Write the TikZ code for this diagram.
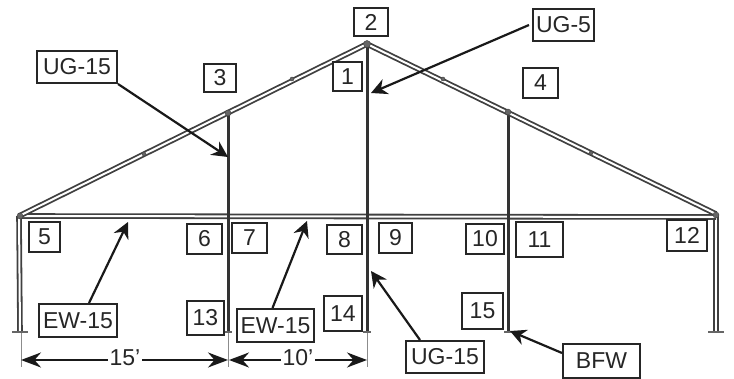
\documentclass[tikz,border=0pt]{standalone}
\usepackage{fontspec}
\setmainfont{Liberation Sans}
\usetikzlibrary{arrows.meta}
\tikzset{
  tag/.style={draw=black!85, line width=2pt, fill=white, inner sep=0pt, text=black!85,
    font=\fontsize{23}{23}\selectfont},
  rafter/.style={draw=black!75, line width=1.8pt, double=white, double distance=2pt},
  post/.style={draw=black!80, line width=3pt},
  thinline/.style={draw=black!45, line width=0.7pt},
  joint/.style={fill=black!60, draw=black!75, line width=0.4pt},
  pointer/.style={-{Stealth[length=16pt,width=16pt]}, draw=black!90, line width=2.2pt},
  dimline/.style={{Stealth[length=20pt,width=15pt]}-{Stealth[length=20pt,width=15pt]}, draw=black!90, line width=2pt}
}
\begin{document}
\begin{tikzpicture}[x=1pt, y=-1pt]
\useasboundingbox (0,0) rectangle (734,379);

% ----- Frame -----
\coordinate (apex) at (367,44);
\coordinate (eaveL) at (19,216);
\coordinate (eaveR) at (716,214);

\draw[thinline] (21,330) -- (21,367);
\draw[thinline] (228,330) -- (228,367);
\draw[thinline] (367,330) -- (367,367);

% ----- Posts -----
\draw[rafter] (eaveL) -- (20,331);
\draw[rafter] (eaveR) -- (716,331);
\foreach \x/\ytop in {228/114, 367/46, 508/113}{
  \draw[post] (\x,\ytop) -- (\x,332);
}
\foreach \x/\r in {20/8, 228/4, 367/4, 508/4, 716/8}{
  \draw[draw=black!60, line width=1.5pt] (\x-\r,332) -- (\x+\r,332);
}

% ----- Tie beam and rafters -----
\draw[rafter] (eaveL) -- (716,217);
\draw[post] (228,210) -- (228,226);
\draw[post] (367,210) -- (367,226);
\draw[post] (508,210) -- (508,226);
\draw[rafter] (eaveL) -- (apex);
\draw[rafter] (eaveR) -- (apex);

% ----- Joints -----
\foreach \x/\y/\r in {367/44/3.5, 228/113/3, 508/112/3, 144/154/2, 292/79/2, 443/79/2, 591/153/2, 20/216/3, 716/215/3}{
  \fill[joint] (\x,\y) circle (\r pt);
}

% ----- Number and name tags -----
\foreach \name/\x/\y/\w/\h/\txt in {
  numOne/347.5/76.5/29/29/1, numTwo/371/22/34/28/2, numThree/220/78/32/28/3, numFour/540.5/83/35/30/4,
  numFive/44.5/237/31/30/5, numSix/204.5/239/35/30/6, numSeven/249.5/238/35/30/7, numEight/344.5/239.5/35/29/8,
  numNine/395.5/238/33/30/9, numTen/485/239/38/30/10, numEleven/539.5/239.5/47/35/11, numTwelve/687/235.5/40/31/12,
  numThirteen/205.5/318/37/34/13, numFourteen/343/313.5/38/35/14, numFifteen/482.5/311/41/36/15,
  ugLeft/77/67/80/32/UG-15, ugCenter/563.5/25/61/32/UG-5, ugBottom/445/357/78/32/UG-15,
  ewLeft/78/320.5/78/33/EW-15, ewRight/275.5/325.5/77/33/EW-15, bfw/601.5/361/77/34/BFW}{
  \node[tag, minimum width=\w pt, minimum height=\h pt] (\name) at (\x,\y) {\txt};
}

% ----- Pointers -----
\coordinate (ugLeftTip) at (228,157);
\coordinate (ugCenterTip) at (371,93);
\coordinate (ugBottomTip) at (371,271);
\coordinate (ewLeftTip) at (128,222);
\coordinate (ewRightTip) at (307,221);
\coordinate (bfwTip) at (510,331);
\draw[pointer] (ugLeft.south east) -- (ugLeftTip);
\draw[pointer] (ugCenter.west) ++(-3,0) -- (ugCenterTip);
\draw[pointer] (ugBottom.north) ++(-25,0) -- (ugBottomTip);
\draw[pointer] (ewLeft.north) ++(11,0) -- (ewLeftTip);
\draw[pointer] (ewRight.north) ++(-3,0) -- (ewRightTip);
\draw[pointer] (bfw.west) ++(0,-8) -- (bfwTip);

% ----- Dimensions -----
\coordinate (dimA) at (21,360);
\coordinate (dimB) at (228,360);
\coordinate (dimC) at (229,360);
\coordinate (dimD) at (367,360);
\draw[dimline] (dimA) -- (dimB);
\draw[dimline] (dimC) -- (dimD);
\node[fill=white, inner sep=2pt, text=black!85, font=\fontsize{23}{23}\selectfont] (dimLeft) at (125,358) {15'};
\node[fill=white, inner sep=2pt, text=black!85, font=\fontsize{23}{23}\selectfont] (dimRight) at (298,358) {10'};
\end{tikzpicture}
\end{document}
